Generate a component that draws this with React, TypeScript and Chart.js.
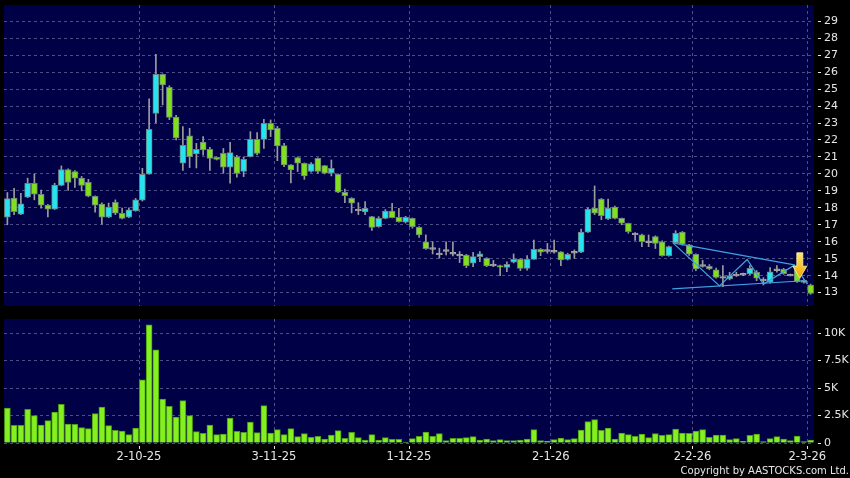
import React, { useEffect, useRef } from 'react';
import { Chart, registerables } from 'chart.js';

Chart.register(...registerables);

// ---- data ----
const openP = [
  17.45, 18.57, 17.63, 18.63, 19.45, 18.8, 18.16, 17.92, 19.32, 20.26,
  20.14, 19.75, 19.51, 18.67, 18.22, 17.45, 18.33, 17.67, 17.45, 17.82,
  18.45, 19.98, 23.57, 25.87, 25.1, 23.35, 20.63, 22.24, 21.18, 21.87,
  21.45, 20.98, 21.21, 20.39, 21.01, 20.15, 21.02, 22.04, 22.04, 22.98,
  22.69, 21.67, 20.53, 20.96, 20.63, 20.14, 20.92, 20.49, 20.04, 19.98,
  18.92, 18.56, 17.88, 17.76, 17.48, 16.89, 17.38, 17.81, 17.44, 17.15,
  17.38, 16.85, 16.0, 15.6, 15.28, 15.48, 15.32, 15.22, 15.22, 14.73,
  15.12, 15.02, 14.63, 14.6, 14.49, 14.79, 14.96, 14.43, 14.96, 15.55,
  15.48, 15.44, 15.4, 14.96, 15.38, 15.38, 16.57, 17.98, 18.51, 17.34,
  18.04, 17.38, 17.09, 16.46, 16.4, 16.0, 16.3, 16.0, 15.18, 15.95,
  16.57, 15.82, 15.26, 14.6, 14.55, 14.35, 13.9, 13.8, 14.03, 14.08,
  14.1, 14.2, 13.75, 13.62, 14.35, 14.37, 14.03, 14.45, 13.6, 13.45,
];
const highP = [
  18.9, 19.15, 18.85, 19.75, 20.0, 19.05, 18.2, 19.45, 20.47, 20.3,
  20.2, 19.85, 19.68, 18.7, 18.3, 18.28, 18.47, 17.98, 18.0, 18.55,
  20.33, 24.42, 27.05, 25.9, 25.2, 23.45, 22.79, 22.69, 21.8, 22.2,
  21.57, 21.0, 21.5, 21.86, 21.1, 21.0, 22.49, 22.43, 23.22, 23.18,
  22.8, 21.8, 20.55, 21.0, 20.65, 20.67, 20.95, 20.5, 20.82, 20.0,
  19.1, 18.6, 18.3, 18.37, 17.5, 17.48, 17.9, 18.26, 17.97, 17.5,
  17.4, 16.9, 16.4, 16.0, 15.62, 16.0, 16.0, 15.42, 15.25, 15.38,
  15.42, 15.06, 14.9, 14.62, 14.82, 15.28, 15.0, 15.18, 16.1, 15.6,
  15.9, 16.1, 15.42, 15.32, 15.52, 16.75, 18.0, 19.29, 18.55, 18.51,
  18.1, 17.4, 17.1, 16.54, 16.45, 16.4, 16.35, 16.05, 15.75, 16.65,
  16.6, 15.85, 15.28, 14.9, 14.65, 14.45, 14.6, 14.2, 14.2, 14.15,
  14.6, 14.3, 13.88, 14.47, 14.6, 14.43, 14.1, 14.6, 13.75, 13.5,
];
const lowP = [
  17.0, 17.6, 17.6, 18.6, 18.47, 17.98, 17.47, 17.9, 19.3, 19.02,
  19.2, 19.0, 18.65, 17.74, 17.04, 17.42, 17.6, 17.35, 17.42, 17.8,
  18.4, 19.98, 23.0, 24.07, 23.2, 22.0, 20.2, 20.37, 20.35, 21.1,
  20.2, 20.82, 20.04, 19.45, 19.8, 19.84, 21.0, 21.12, 21.5, 22.2,
  20.78, 20.43, 19.47, 20.14, 19.68, 20.1, 20.04, 20.0, 19.88, 18.9,
  18.31, 17.7, 17.6, 17.6, 16.66, 16.85, 17.35, 17.4, 17.15, 17.1,
  16.8, 16.26, 15.55, 15.28, 15.03, 15.22, 15.16, 14.77, 14.47, 14.53,
  14.83, 14.53, 14.53, 14.0, 14.24, 14.75, 14.3, 14.33, 14.96, 15.18,
  15.32, 15.32, 14.59, 14.92, 15.02, 15.36, 16.55, 17.6, 17.3, 17.3,
  17.35, 17.0, 16.5, 16.07, 15.71, 15.71, 15.6, 15.15, 15.15, 15.9,
  15.8, 15.2, 14.3, 14.5, 14.35, 13.85, 13.35, 13.75, 13.95, 14.0,
  14.06, 13.7, 13.45, 13.55, 14.2, 14.08, 13.98, 13.6, 13.55, 12.9,
];
const closeP = [
  18.55, 17.78, 18.24, 19.45, 18.8, 18.16, 17.92, 19.34, 20.26, 19.5,
  19.75, 19.32, 18.69, 18.16, 17.45, 18.04, 17.69, 17.38, 17.88, 18.47,
  19.98, 22.63, 25.87, 25.24, 23.33, 22.12, 21.69, 21.02, 21.45, 21.42,
  20.92, 20.85, 20.39, 21.25, 20.03, 20.86, 22.04, 21.21, 22.98, 22.59,
  21.65, 20.53, 20.24, 20.63, 19.88, 20.59, 20.14, 20.04, 20.33, 18.92,
  18.72, 18.27, 17.88, 17.97, 16.85, 17.38, 17.81, 17.42, 17.19, 17.44,
  16.89, 16.4, 15.59, 15.6, 15.28, 15.48, 15.32, 15.22, 14.59, 15.12,
  15.28, 14.57, 14.63, 14.5, 14.67, 14.96, 14.43, 14.96, 15.55, 15.38,
  15.48, 15.44, 14.92, 15.26, 15.38, 16.57, 17.92, 17.69, 17.53, 17.98,
  17.38, 17.09, 16.6, 16.46, 16.0, 16.0, 15.9, 15.18, 15.71, 16.5,
  15.86, 15.26, 14.4, 14.6, 14.4, 13.9, 13.9, 14.0, 14.03, 14.08,
  14.43, 13.85, 13.75, 14.22, 14.35, 14.12, 14.03, 13.65, 13.72, 12.95,
];
const volume = [
  3180, 1606, 1606, 3060, 2485, 1636, 2030, 2818, 3515, 1727,
  1697, 1394, 1303, 2666, 3272, 1576, 1151, 1091, 758, 1364,
  5757, 10757, 8484, 4000, 3333, 2363, 3848, 2485, 1030, 879,
  1636, 758, 818, 2273, 1060, 970, 1909, 939, 3394, 909,
  1212, 758, 1303, 576, 848, 515, 606, 364, 727, 1121,
  424, 970, 485, 273, 758, 273, 485, 333, 333, 91,
  394, 606, 1000, 606, 848, 212, 424, 424, 485, 576,
  273, 364, 212, 303, 212, 212, 273, 364, 1212, 212,
  182, 303, 455, 303, 394, 1180, 1939, 2121, 1151, 1364,
  364, 909, 758, 606, 818, 485, 848, 697, 758, 1273,
  909, 879, 1091, 1212, 515, 727, 727, 303, 394, 152,
  697, 818, 121, 394, 576, 364, 212, 636, 121, 273,
];
// first bar of each month, and its label
const monthStart = [20, 40, 60, 81, 102, 119];
const monthLabels = ['2-10-25', '3-11-25', '1-12-25', '2-1-26', '2-2-26', '2-3-26'];
// right-axis tick steps
const priceStep = 1;
const volumeStep = 2500;

// drawn pattern lines (bar index, price)
const upperTrend = [{ x: 98.6, y: 15.93 }, { x: 116.6, y: 14.63 }];
const lowerTrend = [{ x: 98.5, y: 13.22 }, { x: 118.0, y: 13.7 }];
const zigzag = [
  { x: 98.6, y: 15.93 }, { x: 105.5, y: 13.39 }, { x: 109.6, y: 14.95 },
  { x: 112.0, y: 13.5 }, { x: 116.6, y: 14.62 }, { x: 118.5, y: 13.5 },
];
const arrowMark = { x: 117.4, top: 15.35, tip: 13.85 };

// ---- styles ----
const NAVY = '#000046';
const GRID = '#4E4E86';
const TEXT = '#E6E6E6';
const UP = '#24E4F0';
const DOWN = '#80E01E';
const FLAT = '#A4A4A4';
const BODY_BORDER = '#6F8282';
const WICK = '#9C9C9C';
const VOL = '#84F020';
const VOL_BORDER = '#4C9A14';
const TREND = '#3FA2DE';
const FONT = 'DejaVu Sans';

const N = closeP.length;
const idx = closeP.map((_, i) => i);

function bodyRange(i: number): [number, number] {
  const lo = Math.min(openP[i], closeP[i]);
  const hi = Math.max(openP[i], closeP[i]);
  if (hi - lo < 0.1) {
    const m = (lo + hi) / 2;
    return [m - 0.05, m + 0.05];
  }
  return [lo, hi];
}
function bodyColor(i: number) {
  if (closeP[i] > openP[i]) return UP;
  if (closeP[i] < openP[i]) return DOWN;
  return FLAT;
}

const plotBg = {
  id: 'plotBg',
  beforeDraw(chart: any) {
    const { ctx, chartArea } = chart;
    ctx.save();
    ctx.fillStyle = NAVY;
    ctx.fillRect(chartArea.left, chartArea.top, chartArea.right - chartArea.left, chartArea.bottom - chartArea.top);
    ctx.restore();
  },
};

const arrowPlugin = {
  id: 'arrowMark',
  afterDatasetsDraw(chart: any) {
    const { ctx, scales } = chart;
    const cx = scales.x.getPixelForValue(arrowMark.x);
    const yTop = scales.y.getPixelForValue(arrowMark.top);
    const yTip = scales.y.getPixelForValue(arrowMark.tip);
    const headH = 12;
    const yHead = yTip - headH;
    const g = ctx.createLinearGradient(0, yTop, 0, yTip);
    g.addColorStop(0, '#FFE86A');
    g.addColorStop(1, '#EFA400');
    ctx.save();
    ctx.beginPath();
    ctx.moveTo(cx - 3, yTop);
    ctx.lineTo(cx + 3, yTop);
    ctx.lineTo(cx + 3, yHead);
    ctx.lineTo(cx + 7, yHead);
    ctx.lineTo(cx, yTip);
    ctx.lineTo(cx - 7, yHead);
    ctx.lineTo(cx - 3, yHead);
    ctx.closePath();
    ctx.fillStyle = g;
    ctx.fill();
    ctx.strokeStyle = '#FFF2A8';
    ctx.lineWidth = 0.8;
    ctx.stroke();
    ctx.restore();
  },
};

function xScale(showLabels: boolean, height: number) {
  return {
    type: 'linear',
    min: -0.5,
    max: N - 0.5,
    offset: false,
    afterBuildTicks: (s: any) => {
      s.ticks = monthStart.map((i) => ({ value: i - 0.5 }));
    },
    afterFit: (s: any) => {
      s.height = height;
      s.paddingLeft = 0;
      s.paddingRight = 0;
    },
    ticks: {
      display: showLabels,
      autoSkip: false,
      maxRotation: 0,
      color: TEXT,
      padding: 1.5,
      font: { family: FONT, size: 11.5 },
      callback: (_v: any, i: number) => monthLabels[i],
    },
    grid: {
      offset: false,
      color: GRID,
      lineWidth: 1,
      drawTicks: showLabels,
      tickLength: 6,
      tickColor: TEXT,
      tickBorderDash: [3, 3],
      tickBorderDashOffset: 3,
    },
    border: { display: false, dash: [3, 3] },
  };
}

function yScale(min: number, max: number, step: number, fmt: (v: number) => string) {
  return {
    position: 'right',
    min,
    max,
    beginAtZero: false,
    afterBuildTicks: (s: any) => {
      const t: { value: number }[] = [];
      for (let v = Math.ceil(min / step) * step; v <= max + 1e-9; v += step) t.push({ value: v });
      s.ticks = t;
    },
    afterFit: (s: any) => {
      s.width = 36;
      s.paddingTop = 0;
      s.paddingBottom = 0;
    },
    ticks: {
      color: TEXT,
      padding: 3,
      font: { family: FONT, size: 11 },
      callback: (v: any) => fmt(Number(v)),
    },
    grid: {
      color: GRID,
      lineWidth: 1,
      drawTicks: true,
      tickLength: 7,
      tickColor: TEXT,
      tickBorderDash: [3, 4],
      tickBorderDashOffset: 3,
    },
    border: { display: false, dash: [3, 3] },
  };
}

export default function App() {
  const topRef = useRef<HTMLCanvasElement>(null);
  const botRef = useRef<HTMLCanvasElement>(null);

  useEffect(() => {
    const lineDs = (data: any[]) => ({
      type: 'line',
      data,
      borderColor: TREND,
      borderWidth: 1.2,
      pointRadius: 0,
      fill: false,
      tension: 0,
      order: 0,
    });
    const top = new Chart(topRef.current as HTMLCanvasElement, {
      type: 'bar',
      data: {
        datasets: [
          lineDs(upperTrend),
          lineDs(lowerTrend),
          lineDs(zigzag),
          {
            type: 'bar',
            data: idx.map((i) => ({ x: i, y: bodyRange(i) })),
            backgroundColor: idx.map(bodyColor),
            borderColor: idx.map((i) => (closeP[i] === openP[i] ? FLAT : BODY_BORDER)),
            borderWidth: 1,
            borderSkipped: false,
            barThickness: 6,
            grouped: false,
            order: 1,
          },
          {
            type: 'bar',
            data: idx.map((i) => ({ x: i, y: [lowP[i], highP[i]] })),
            backgroundColor: WICK,
            borderWidth: 0,
            barThickness: 1,
            grouped: false,
            order: 2,
          },
        ] as any,
      },
      options: {
        animation: false,
        responsive: false,
        maintainAspectRatio: false,
        events: [],
        layout: { padding: { left: 4, top: 5, right: 0, bottom: 0 } },
        plugins: { legend: { display: false }, tooltip: { enabled: false } },
        scales: {
          x: xScale(false, 6) as any,
          y: yScale(12.21, 29.96, priceStep, (v) => String(v)) as any,
        },
      },
      plugins: [plotBg, arrowPlugin],
    });

    const bot = new Chart(botRef.current as HTMLCanvasElement, {
      type: 'bar',
      data: {
        datasets: [
          {
            data: idx.map((i) => ({ x: i, y: volume[i] })),
            backgroundColor: VOL,
            borderColor: VOL_BORDER,
            borderWidth: 1,
            borderSkipped: 'start',
            barThickness: 6,
            grouped: false,
          },
        ] as any,
      },
      options: {
        animation: false,
        responsive: false,
        maintainAspectRatio: false,
        events: [],
        layout: { padding: { left: 4, top: 7, right: 0, bottom: 0 } },
        plugins: { legend: { display: false }, tooltip: { enabled: false } },
        scales: {
          x: xScale(true, 35) as any,
          y: yScale(0, 11280, volumeStep, (v) => (v === 0 ? '0' : v / 1000 + 'K')) as any,
        },
      },
      plugins: [plotBg],
    });

    return () => {
      top.destroy();
      bot.destroy();
    };
  }, []);

  return (
    <div
      style={{
        position: 'fixed',
        left: 0,
        top: 0,
        width: 850,
        height: 478,
        background: '#000000',
        overflow: 'hidden',
      }}
    >
      <canvas ref={topRef} width={850} height={312} style={{ position: 'absolute', left: 0, top: 0, width: 850, height: 312 }} />
      <canvas ref={botRef} width={850} height={166} style={{ position: 'absolute', left: 0, top: 312, width: 850, height: 166 }} />
      <div
        style={{
          position: 'absolute',
          right: 1,
          top: 465,
          fontFamily: FONT,
          fontSize: 10,
          lineHeight: '12px',
          color: TEXT,
          whiteSpace: 'nowrap',
        }}
      >
        Copyright by AASTOCKS.com Ltd.
      </div>
    </div>
  );
}
